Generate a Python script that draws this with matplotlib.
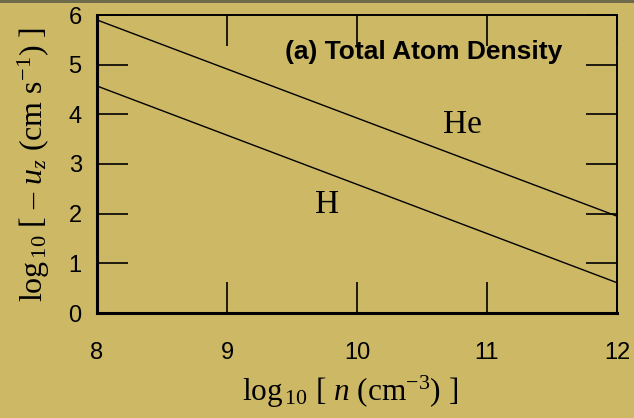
import numpy as np
import matplotlib.pyplot as plt
from matplotlib.patches import Rectangle

# log10 n (cm^-3) and log10 of downward drift speed
log_n = [8, 12]
u_he = [5.90, 1.95]
u_h = [4.57, 0.61]

x_ticks = [8, 9, 10, 11, 12]
y_ticks = [0, 1, 2, 3, 4, 5, 6]

bg = '#cdb866'

plt.rcParams['mathtext.fontset'] = 'custom'
plt.rcParams['mathtext.rm'] = 'Liberation Serif'
plt.rcParams['mathtext.it'] = 'Liberation Serif:italic'

fig = plt.figure(figsize=(6.34, 4.18), dpi=100, facecolor=bg)
ax = fig.add_axes([97 / 634, 1 - 313 / 418, 520 / 634, 298 / 418])
ax.set_facecolor(bg)

# thin dark strip along the top edge
fig.patches.append(Rectangle((0, 1 - 3 / 418), 1, 3 / 418, transform=fig.transFigure,
                             facecolor='#6e6a4c', edgecolor='none'))

ax.plot(log_n, u_he, color='black', lw=1.0)
ax.plot(log_n, u_h, color='black', lw=1.0)

ax.set_xlim(8, 12)
ax.set_ylim(0, 6)
ax.set_xticks(x_ticks)
ax.set_yticks(y_ticks)

for side in ['left', 'bottom']:
    ax.spines[side].set_linewidth(2.2)
for side in ['top', 'right']:
    ax.spines[side].set_linewidth(1.4)

ax.tick_params(direction='in', length=22, width=1.2, top=True, right=True,
               labelsize=17, colors='black')
ax.tick_params(axis='x', pad=21)
ax.tick_params(axis='y', pad=11)
for lab in ax.get_xticklabels() + ax.get_yticklabels():
    lab.set_family('Liberation Sans')

ax.text(0.629, 0.876, '(a) Total Atom Density', transform=ax.transAxes,
        ha='center', va='center', fontsize=19, fontweight='bold', family='Liberation Sans')
ax.text(10.81, 3.79, 'He', ha='center', va='center', fontsize=24, family='Liberation Serif')
ax.text(9.77, 2.17, 'H', ha='center', va='center', fontsize=24, family='Liberation Serif')

ax.set_xlabel(r'log$_{\,10}$ [ $n$ (cm$^{-3}$) ]', fontsize=22.5, family='Liberation Serif', labelpad=6)
ax.xaxis.set_label_coords(0.487, -0.205)
ax.set_ylabel(r'log$_{\,10}$ [ – $u_z$ (cm s$^{-1}$) ]', fontsize=23, family='Liberation Serif', labelpad=12)

fig.savefig('out.png', dpi=100, facecolor=bg)
